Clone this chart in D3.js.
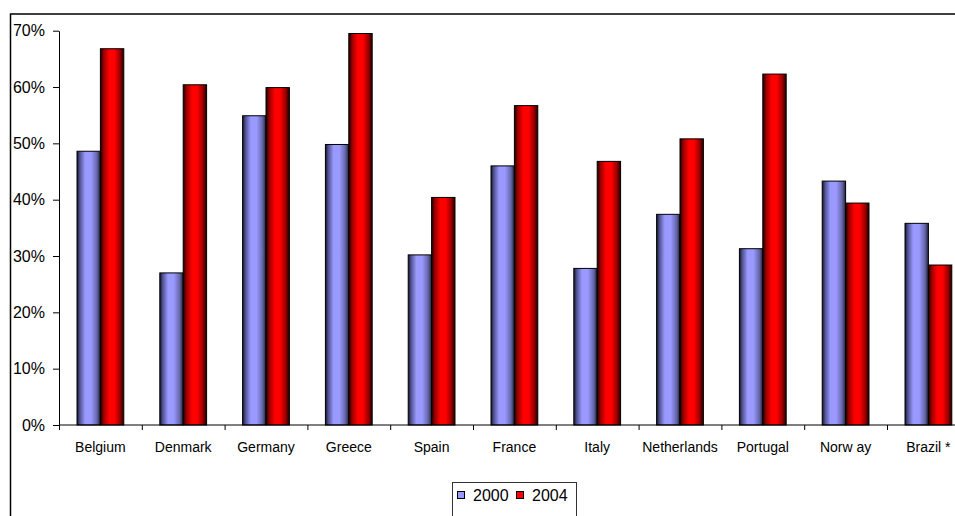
<!DOCTYPE html>
<html>
<head>
<meta charset="utf-8">
<script src="https://cdn.jsdelivr.net/npm/d3@7"></script>
<style>
  html, body { margin: 0; padding: 0; background: #fff; }
  svg { display: block; }
  text { font-family: Arial, "Liberation Sans", sans-serif; fill: #000; }
</style>
</head>
<body>
<svg id="chart" width="955" height="516"></svg>
<script>
// Share of respondents per country, 2000 vs 2004 (fractions)
const categories = ["Belgium", "Denmark", "Germany", "Greece", "Spain", "France",
                    "Italy", "Netherlands", "Portugal", "Norw ay", "Brazil *"];
const seriesNames = ["2000", "2004"];
const values2000 = [0.486, 0.270, 0.549, 0.498, 0.302, 0.460, 0.278, 0.374, 0.313, 0.433, 0.358];
const values2004 = [0.668, 0.604, 0.599, 0.695, 0.404, 0.567, 0.468, 0.508, 0.623, 0.394, 0.284];
const yTicks = [0, 0.1, 0.2, 0.3, 0.4, 0.5, 0.6, 0.7];

const svg = d3.select("#chart");

// Chart area frame (extends past the visible window on the right and bottom)
svg.append("rect")
  .attr("x", 10.5).attr("y", 14)
  .attr("width", 1100).attr("height", 700)
  .attr("fill", "#fff")
  .attr("stroke", "#000").attr("stroke-width", 1.5);

// Cylinder-like horizontal shading for each series
const defs = svg.append("defs");
const gradStops = {
  "2000": [[0, "#14142a"], [0.12, "#505090"], [0.35, "#9999ff"], [0.6, "#9999ff"], [0.85, "#6666aa"], [1, "#22223a"]],
  "2004": [[0, "#1a0000"], [0.14, "#990000"], [0.38, "#ff0000"], [0.6, "#ff0000"], [0.84, "#990000"], [1, "#1f0000"]]
};
seriesNames.forEach((s, i) => {
  const g = defs.append("linearGradient")
    .attr("id", "grad" + i)
    .attr("x1", "0%").attr("x2", "100%").attr("y1", "0%").attr("y2", "0%");
  gradStops[s].forEach(([o, c]) => g.append("stop").attr("offset", o).attr("stop-color", c));
});

const plotLeft = 59, plotTop = 30.7, plotBottom = 425, catWidth = 82.8;

const x0 = d3.scaleBand()
  .domain(categories)
  .range([plotLeft, plotLeft + catWidth * categories.length])
  .paddingInner(0).paddingOuter(0);

const x1 = d3.scaleBand()
  .domain(seriesNames)
  .range([0, x0.bandwidth()])
  .paddingInner(0).paddingOuter(0.77);

const y = d3.scaleLinear().domain([0, 0.7]).range([plotBottom, plotTop]);

// Bars
const seriesData = [values2000, values2004];
const groups = svg.append("g").selectAll("g")
  .data(categories)
  .join("g")
  .attr("transform", d => `translate(${x0(d)},0)`);

groups.selectAll("rect")
  .data((d, ci) => seriesNames.map((s, si) => ({ s, si, v: seriesData[si][ci] })))
  .join("rect")
  .attr("x", d => x1(d.s))
  .attr("y", d => y(d.v))
  .attr("width", x1.bandwidth())
  .attr("height", d => plotBottom - y(d.v))
  .attr("fill", d => `url(#grad${d.si})`)
  .attr("stroke", "#000")
  .attr("stroke-width", 1);

// Y axis
const yAxis = d3.axisLeft(y)
  .tickValues(yTicks)
  .tickFormat(d3.format(".0%"))
  .tickSize(6)
  .tickSizeOuter(0)
  .tickPadding(8);

const gy = svg.append("g")
  .attr("transform", `translate(${plotLeft},0)`)
  .call(yAxis);
gy.selectAll("text").style("font-size", "16px");
gy.selectAll("line, path").attr("stroke", "#000");

// X axis: baseline, boundary ticks and category labels
const xg = svg.append("g");
xg.append("line")
  .attr("x1", plotLeft).attr("x2", x0.range()[1])
  .attr("y1", plotBottom).attr("y2", plotBottom)
  .attr("stroke", "#000");
xg.selectAll("line.tick")
  .data(categories)
  .join("line")
  .attr("class", "tick")
  .attr("x1", d => x0(d) + 0.5).attr("x2", d => x0(d) + 0.5)
  .attr("y1", plotBottom).attr("y2", plotBottom + 5)
  .attr("stroke", "#000");
xg.selectAll("text")
  .data(categories)
  .join("text")
  .attr("x", d => x0(d) + x0.bandwidth() / 2)
  .attr("y", 452)
  .attr("text-anchor", "middle")
  .style("font-size", "14px")
  .text(d => d);

// Legend
const legend = svg.append("g");
legend.append("rect")
  .attr("x", 452.5).attr("y", 482.5)
  .attr("width", 124).attr("height", 60)
  .attr("fill", "#fff")
  .attr("stroke", "#333").attr("stroke-width", 1);

const legendFill = { "2000": "#9999ff", "2004": "#ff0000" };
const legendX = [457.5, 516.5];
seriesNames.forEach((s, i) => {
  legend.append("rect")
    .attr("x", legendX[i]).attr("y", 491.5)
    .attr("width", 7).attr("height", 7)
    .attr("fill", legendFill[s])
    .attr("stroke", "#000").attr("stroke-width", 1);
  legend.append("text")
    .attr("x", legendX[i] + 15.5)
    .attr("y", 501)
    .style("font-size", "16px")
    .text(s);
});
</script>
</body>
</html>
